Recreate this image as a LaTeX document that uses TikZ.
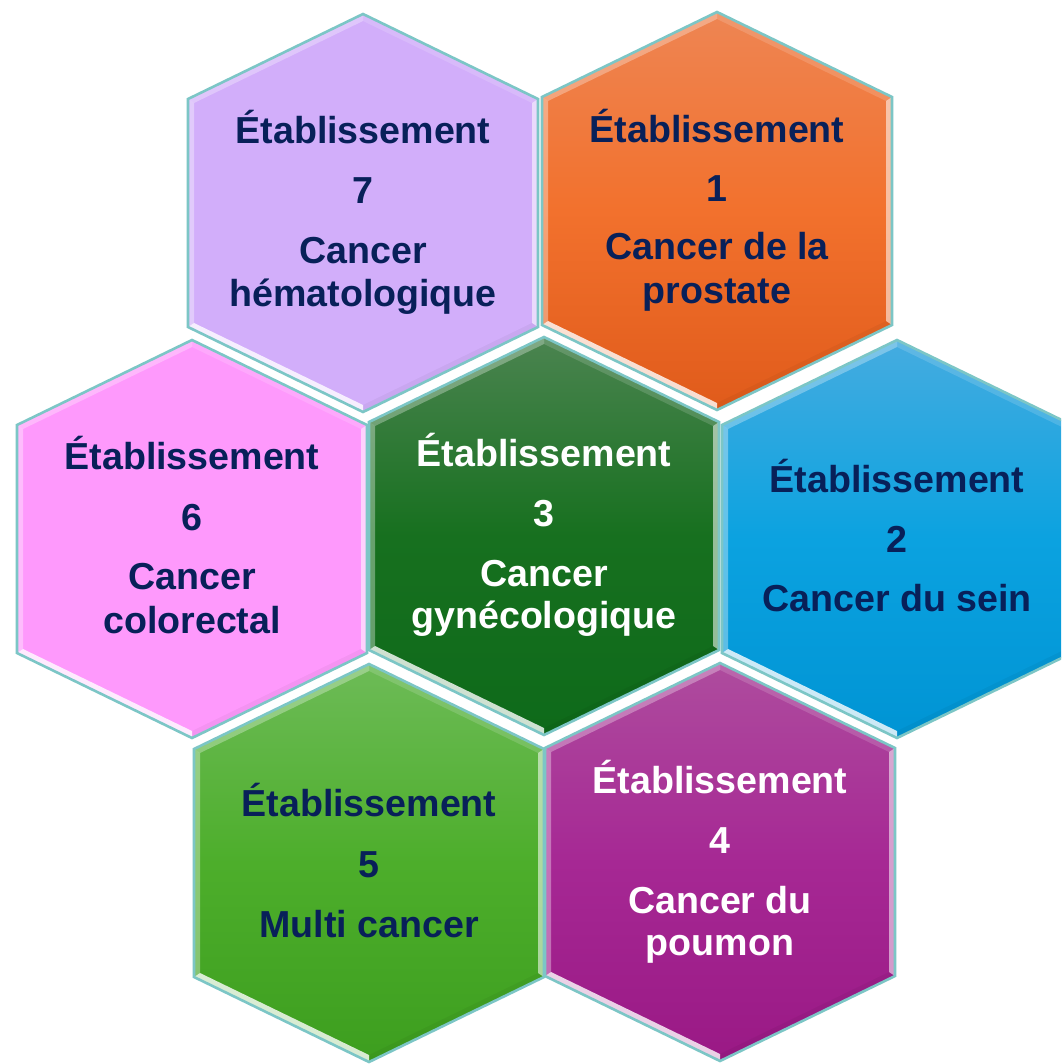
\documentclass[tikz,border=0pt]{standalone}
\usepackage{fontspec}
\setmainfont{Liberation Sans}
\usetikzlibrary{calc}
\definecolor{navy}{HTML}{082059}
\definecolor{edgeteal}{HTML}{7CC6C6}
\definecolor{lav}{HTML}{D2AEFA}
\definecolor{pinkf}{HTML}{FE99FC}
\definecolor{EE8553c}{HTML}{EE8553}
\definecolor{E05B1Bc}{HTML}{E05B1B}
\definecolor{F2712Dc}{HTML}{F2712D}
\definecolor{G3t}{HTML}{4B8450}
\definecolor{G3m}{HTML}{17701F}
\definecolor{G3b}{HTML}{0E6A1A}
\definecolor{B2t}{HTML}{45ACE0}
\definecolor{B2m}{HTML}{0BA2E0}
\definecolor{B2b}{HTML}{0094D4}
\definecolor{G5t}{HTML}{6DBB57}
\definecolor{G5m}{HTML}{4DAE2B}
\definecolor{G5b}{HTML}{3D9E1F}
\definecolor{P4t}{HTML}{AE4C9E}
\definecolor{P4m}{HTML}{A62894}
\definecolor{P4b}{HTML}{9A1985}
\tikzset{
  hexborder/.style={draw=edgeteal, line width=2.6pt, line join=miter},
  lbl/.style={anchor=base, inner sep=0pt, text=navy, font=\bfseries\fontsize{37.6}{42}\selectfont},
  lblw/.style={lbl, text=white},
  fill7/.style={fill=lav},
  fill1/.style={top color=EE8553c, bottom color=E05B1Bc, middle color=F2712Dc},
  fill6/.style={fill=pinkf},
  fill3/.style={top color=G3t, bottom color=G3b, middle color=G3m},
  fill2/.style={top color=B2t, bottom color=B2b, middle color=B2m},
  fill5/.style={top color=G5t, bottom color=G5b, middle color=G5m},
  fill4/.style={top color=P4t, bottom color=P4b, middle color=P4m},
}
% \hexcell{name}{x}{y}{fillstyle}
\newcommand\hexcell[4]{%
  \coordinate (#1) at (#2,#3);
  \begin{scope}[shift={(#2,#3)}]
    \path[#4] (0,-199) -- (175,-114) -- (175,114) -- (0,199) -- (-175,114) -- (-175,-114) -- cycle;
    % bevel facets
    \fill[white, opacity=0.3] (-175,-114) -- (0,-199) -- (0,-192) -- (-169,-110) -- cycle;
    \fill[white, opacity=0.15] (0,-199) -- (175,-114) -- (169,-110) -- (0,-192) -- cycle;
    \fill[white, opacity=0.55] (175,-114) -- (175,114) -- (169,110) -- (169,-110) -- cycle;
    \fill[black, opacity=0.04] (175,114) -- (0,199) -- (0,192) -- (169,110) -- cycle;
    \fill[white, opacity=0.8] (0,199) -- (-175,114) -- (-169,110) -- (0,192) -- cycle;
    \fill[white, opacity=0.35] (-175,114) -- (-175,-114) -- (-169,-110) -- (-169,110) -- cycle;
    \draw[hexborder] (0,-199) -- (175,-114) -- (175,114) -- (0,199) -- (-175,114) -- (-175,-114) -- cycle;
  \end{scope}
}
\begin{document}
\begin{tikzpicture}[x=1pt, y=-1pt]
  \useasboundingbox (0,0) rectangle (1061,1064);
  \fill[white] (0,0) rectangle (1061,1064);
  \clip (0,0) rectangle (1061,1064);

  \hexcell{h7}{363}{213}{fill7}
  \hexcell{h1}{717}{211}{fill1}
  \hexcell{h6}{192}{539}{fill6}
  \hexcell{h3}{544}{536}{fill3}
  \hexcell{h2}{897}{539}{fill2}
  \hexcell{h5}{369}{863}{fill5}
  \hexcell{h4}{720}{862}{fill4}

  % Etablissement 7
  \node[lbl] (t7a) at ($(h7)+(0,-69)$) {Établissement};
  \node[lbl] (t7b) at ($(h7)+(0,-9)$) {7};
  \node[lbl] (t7c) at ($(h7)+(0,51)$) {Cancer};
  \node[lbl] (t7d) at ($(h7)+(0,93)$) {hématologique};
  % Etablissement 1
  \node[lbl] (t1a) at ($(h1)+(0,-68)$) {Établissement};
  \node[lbl] (t1b) at ($(h1)+(0,-9)$) {1};
  \node[lbl] (t1c) at ($(h1)+(0,49)$) {Cancer de la};
  \node[lbl] (t1d) at ($(h1)+(0,92)$) {prostate};
  % Etablissement 6
  \node[lbl] (t6a) at ($(h6)+(0,-70)$) {Établissement};
  \node[lbl] (t6b) at ($(h6)+(0,-9)$) {6};
  \node[lbl] (t6c) at ($(h6)+(0,50)$) {Cancer};
  \node[lbl] (t6d) at ($(h6)+(0,94)$) {colorectal};
  % Etablissement 3
  \node[lblw] (t3a) at ($(h3)+(0,-70)$) {Établissement};
  \node[lblw] (t3b) at ($(h3)+(0,-10)$) {3};
  \node[lblw] (t3c) at ($(h3)+(0,50)$) {Cancer};
  \node[lblw] (t3d) at ($(h3)+(0,92)$) {gynécologique};
  % Etablissement 2
  \node[lbl] (t2a) at ($(h2)+(0,-47)$) {Établissement};
  \node[lbl] (t2b) at ($(h2)+(0,13)$) {2};
  \node[lbl] (t2c) at ($(h2)+(0,72)$) {Cancer du sein};
  % Etablissement 5
  \node[lbl] (t5a) at ($(h5)+(0,-47)$) {Établissement};
  \node[lbl] (t5b) at ($(h5)+(0,14)$) {5};
  \node[lbl] (t5c) at ($(h5)+(0,74)$) {Multi cancer};
  % Etablissement 4
  \node[lblw] (t4a) at ($(h4)+(0,-69)$) {Établissement};
  \node[lblw] (t4b) at ($(h4)+(0,-9)$) {4};
  \node[lblw] (t4c) at ($(h4)+(0,51)$) {Cancer du};
  \node[lblw] (t4d) at ($(h4)+(0,93)$) {poumon};
\end{tikzpicture}
\end{document}
